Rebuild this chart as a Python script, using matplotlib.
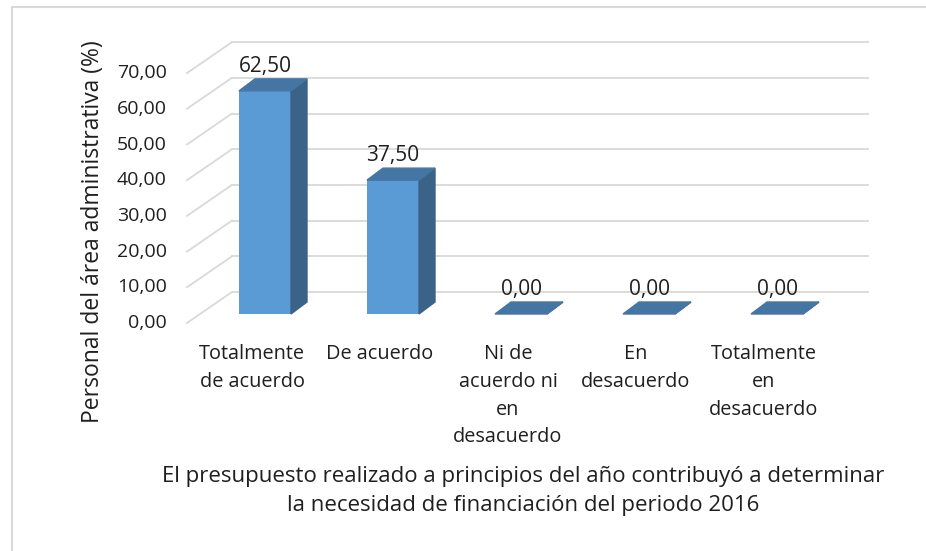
import matplotlib.pyplot as plt
from matplotlib.patches import Polygon, Rectangle

# Data
categories = ["Totalmente\nde acuerdo", "De acuerdo", "Ni de\nacuerdo ni\nen\ndesacuerdo",
              "En\ndesacuerdo", "Totalmente\nen\ndesacuerdo"]
values = [62.50, 37.50, 0.00, 0.00, 0.00]
y_ticks = [0, 10, 20, 30, 40, 50, 60, 70]
y_title = "Personal del área administrativa (%)"
x_title = ("El presupuesto realizado a principios del año contribuyó a determinar\n"
           "la necesidad de financiación del periodo 2016")

plt.rcParams['font.family'] = ['Open Sans', 'DejaVu Sans']
TXT = '#1f1f1f'

fig = plt.figure(figsize=(9.26, 5.51), dpi=100)
ax = fig.add_axes([0, 0, 1, 1])

# pixel scale of the chart (px per category, px per unit)
PX_X = 128.0
PX_Y = 3.57
X0, Y0 = 265, 314
ax.set_xlim(-X0 / PX_X, (926 - X0) / PX_X)
ax.set_ylim((Y0 - 551) / PX_Y, Y0 / PX_Y)
ax.axis('off')


def ox(p):
    return p / PX_X


def oy(p):
    return p / PX_Y


# fake 3D offsets
back = (ox(32), oy(22))
front = (ox(-13), oy(-9))
depth = (ox(16), oy(12))
bw = ox(52)
wall_left = -0.508
wall_right = 4.711

# walls / gridlines
for v in y_ticks:
    ax.plot([wall_left + back[0], wall_right], [v + back[1]] * 2,
            color='#d9d9d9', lw=1.3, zorder=1)
    ax.plot([wall_left + front[0], wall_left + back[0]],
            [v + front[1], v + back[1]], color='#d9d9d9', lw=1.3, zorder=1)
    ax.text(wall_left + front[0] - ox(20), v + front[1], f"{v:.2f}".replace('.', ','),
            ha='right', va='center', fontsize=14, color=TXT)

# bars
xs = list(range(len(values)))
ax.bar(xs, values, width=bw, color='#5b9bd5', zorder=3)
for i, v in zip(xs, values):
    l, r = i - bw / 2, i + bw / 2
    ax.add_patch(Polygon([(r, 0), (r + depth[0], depth[1]), (r + depth[0], v + depth[1]), (r, v)],
                         closed=True, color='#3a6388', zorder=3))
    ax.add_patch(Polygon([(l, v), (r, v), (r + depth[0], v + depth[1]), (l + depth[0], v + depth[1])],
                         closed=True, color='#4576a3', zorder=4))
    ax.text(i, v + depth[1] + oy(2), f"{v:.2f}".replace('.', ','),
            ha='center', va='bottom', fontsize=15, color=TXT, zorder=5)
    ax.text(i + front[0], oy(-30), categories[i], ha='center', va='top',
            multialignment='center', fontsize=14.3, color=TXT, linespacing=1.52)

# titles
fig.text(93 / 926, 1 - 232 / 551, y_title, rotation=90, ha='center', va='center',
         fontsize=16.5, color=TXT)
fig.text(523 / 926, 1 - 491 / 551, x_title, ha='center', va='center',
         fontsize=16, color=TXT, linespacing=1.5)

# chart border
fig.patches.append(Rectangle((12 / 926, -0.1), 1.0, 1 - 7 / 551 + 0.1, fill=False,
                             edgecolor='#d9d9d9', lw=1.5, transform=fig.transFigure))

fig.savefig('out.png', dpi=100)
